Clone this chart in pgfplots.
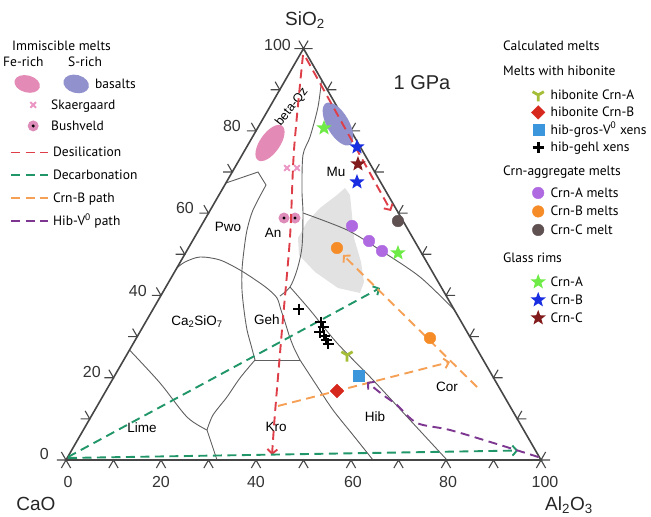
\documentclass[border=0pt]{standalone}
\usepackage{fontspec}
\setmainfont{Liberation Sans}
\newfontfamily\legfont{PT Sans}
\usepackage{pgfplots}
\pgfplotsset{compat=1.18}
\usetikzlibrary{arrows.meta}

\definecolor{desil}{RGB}{222,62,72}
\definecolor{decarb}{RGB}{32,150,105}
\definecolor{crnbp}{RGB}{245,160,85}
\definecolor{hibv}{RGB}{125,55,145}
\definecolor{fepink}{RGB}{228,138,182}
\definecolor{sblue}{RGB}{145,146,205}
\definecolor{skpink}{RGB}{235,150,195}
\definecolor{bushpink}{RGB}{222,140,185}
\definecolor{gstar}{RGB}{110,235,70}
\definecolor{bstar}{RGB}{25,45,225}
\definecolor{rstar}{RGB}{130,28,28}
\definecolor{purp}{RGB}{175,105,225}
\definecolor{orng}{RGB}{245,140,40}
\definecolor{dgray}{RGB}{95,80,82}
\definecolor{ygreen}{RGB}{165,190,55}
\definecolor{lblue}{RGB}{60,150,220}
\definecolor{rdiam}{RGB}{215,40,30}
\definecolor{shade}{RGB}{226,226,226}
\definecolor{phase}{RGB}{95,95,95}
\definecolor{frame}{RGB}{70,70,70}

\pgfdeclareplotmark{fstar}{%
 \pgfpathmoveto{\pgfpointpolar{90}{\pgfplotmarksize}}%
 \pgfpathlineto{\pgfpointpolar{126}{0.42\pgfplotmarksize}}%
 \pgfpathlineto{\pgfpointpolar{162}{\pgfplotmarksize}}%
 \pgfpathlineto{\pgfpointpolar{198}{0.42\pgfplotmarksize}}%
 \pgfpathlineto{\pgfpointpolar{234}{\pgfplotmarksize}}%
 \pgfpathlineto{\pgfpointpolar{270}{0.42\pgfplotmarksize}}%
 \pgfpathlineto{\pgfpointpolar{306}{\pgfplotmarksize}}%
 \pgfpathlineto{\pgfpointpolar{342}{0.42\pgfplotmarksize}}%
 \pgfpathlineto{\pgfpointpolar{18}{\pgfplotmarksize}}%
 \pgfpathlineto{\pgfpointpolar{54}{0.42\pgfplotmarksize}}%
 \pgfpathclose\pgfusepathqfill}
\pgfdeclareplotmark{feell}{%
 \pgftransformrotate{55}%
 \pgfpathellipse{\pgfpointorigin}{\pgfqpoint{21pt}{0pt}}{\pgfqpoint{0pt}{10pt}}%
 \pgfusepathqfill}
\pgfdeclareplotmark{sell}{%
 \pgftransformrotate{-60}%
 \pgfpathellipse{\pgfpointorigin}{\pgfqpoint{24pt}{0pt}}{\pgfqpoint{0pt}{11pt}}%
 \pgfusepathqfill}
\pgfdeclareplotmark{bush}{%
 \pgfpathcircle{\pgfpointorigin}{\pgfplotmarksize}%
 \pgfsetfillcolor{bushpink}\pgfusepathqfill
 \pgfpathcircle{\pgfpointorigin}{0.3\pgfplotmarksize}%
 \pgfsetfillcolor{black}\pgfusepathqfill}

\tikzset{
 pth/.style={line width=1.9pt, dash pattern=on 9pt off 5.5pt},
 desilsty/.style={pth, draw=desil},
 decarbsty/.style={pth, draw=decarb},
 crnbsty/.style={pth, draw=crnbp},
 hibvsty/.style={pth, draw=hibv},
 tip/.style={-{Straight Barb[length=4.5pt,width=10pt]}},
 plin/.style={draw=phase, line width=0.9pt},
}
\newcommand{\lf}{\legfont\fontsize{13.5}{15}\selectfont}
\newcommand{\st}{\rule[-3.5pt]{0pt}{13.5pt}}
\pgfplotsset{
 tern/.style={at={(0pt,0pt)}, anchor=south west, scale only axis,
   width=651pt, height=517pt,
   xmin=-13.895, xmax=123.158, ymin=-13.855, ymax=111.81,
   axis lines=none, xtick=\empty, ytick=\empty, clip=false,
   unbounded coords=jump, legend cell align=left},
 legat/.style 2 args={legend style={at={#1}, anchor=north west, draw=none, fill=none,
   inner sep=0pt, row sep=#2, column sep=4pt, font=\lf, nodes={inner sep=0pt}}},
 lineleg/.style={legend image code/.code={\draw[##1] (0pt,0pt) -- (37pt,0pt);}},
 markleg/.style={legend image code/.code={\path[draw=none,fill=none] (0pt,0pt) -- (37pt,0pt); \draw[##1, only marks, overlay] plot coordinates {(23pt,0pt)};}},
 rmark/.style={legend image code/.code={\path[draw=none,fill=none] (0pt,0pt) -- (17pt,0pt); \draw[##1, only marks, overlay] plot coordinates {(8.5pt,0pt)};}},
 ellleg/.style={legend image code/.code={\path[draw=none,fill=none] (0pt,0pt) -- (37pt,0pt);
   \fill[fepink,draw=none,overlay,rotate around={-15:(17pt,0pt)}] (17pt,0pt) ellipse (13pt and 8.5pt);
   \fill[sblue,draw=none,overlay,rotate around={-15:(66pt,0pt)}] (66pt,0pt) ellipse (13pt and 9pt);}},
}

\begin{document}
\begin{tikzpicture}
\useasboundingbox (0,0) rectangle (651pt,517pt);
% ---------------- background: fields, frame, ticks, texts
\begin{axis}[tern]
\addplot[fill=shade, draw=none, forget plot] coordinates {
 (58.74,66.12) (57.05,64.41) (53.47,61.25) (50.74,57.85) (48.84,53.96) (49.05,49.83)
 (52.42,45.70) (57.26,41.81) (61.89,40.59) (62.74,43.27) (62.11,48.13) (60.63,53.96)
 (60.21,59.55) (59.79,64.41)} -- cycle;
\addplot[plin, smooth, forget plot] coordinates {(53.8,92.4) (53.05,85.80) (51.37,78.51) (49.89,74.14) (49.68,65.63) (49.89,60.04) (49.68,51.77) (48.63,46.18) (47.16,42.05) (45.05,39.86)};
\addplot[plin, smooth, forget plot] coordinates {(23.33,46.67) (25.05,48.13) (28.21,49.34) (32.42,48.61) (36.63,46.18) (40.21,43.51) (42.53,41.56) (44.42,39.38) (45.26,36.46) (46.11,33.54) (46.95,30.38) (48.00,27.22) (49.26,24.31)};
\addplot[plin, forget plot] coordinates {(33.67,67.33) (40.42,70.00) (42.11,66.84)};
\addplot[plin, smooth, forget plot] coordinates {(42.11,66.84) (39.37,60.77) (38.11,55.91) (37.47,51.04) (37.05,46.18) (37.05,41.32) (37.47,36.46) (38.11,31.60) (38.95,27.95) (39.79,24.31)};
\addplot[plin, forget plot] coordinates {(39.79,24.31) (49.26,24.31)};
\addplot[plin, smooth, forget plot] coordinates {(49.26,24.31) (52.42,18.72) (56.21,12.15) (60.42,6.08) (64.63,0)};
\addplot[plin, smooth, forget plot] coordinates {(47.16,42.05) (51.37,36.46) (57.05,28.44) (64.63,19.45) (72.42,9.72) (80.21,0)};
\addplot[plin, smooth, forget plot] coordinates {(49.89,60.04) (59.16,55.91) (66.11,51.04) (74.53,44.48) (81.77,36.46)};
\addplot[plin, smooth, forget plot] coordinates {(13.37,26.74) (19.79,18.72) (25.47,10.45) (29.68,7.29)};
\addplot[plin, forget plot] coordinates {(29.68,7.29) (31.79,0)};
\addplot[plin, smooth, forget plot] coordinates {(29.68,7.29) (30.95,10.94) (33.89,15.31) (36.63,19.93) (39.79,24.31)};
\addplot[draw=frame, line width=1.6pt, forget plot] coordinates {(0,0) (100,0) (50,100)} -- cycle;
\addplot[draw=frame, line width=1.1pt, forget plot] coordinates {
 (-0.97,-1.94) (0,0) (0.97,-1.94) (0,nan)
 (9.03,-1.94) (10,0) (10.97,-1.94) (0,nan)
 (19.03,-1.94) (20,0) (20.97,-1.94) (0,nan)
 (29.03,-1.94) (30,0) (30.97,-1.94) (0,nan)
 (39.03,-1.94) (40,0) (40.97,-1.94) (0,nan)
 (49.03,-1.94) (50,0) (50.97,-1.94) (0,nan)
 (59.03,-1.94) (60,0) (60.97,-1.94) (0,nan)
 (69.03,-1.94) (70,0) (70.97,-1.94) (0,nan)
 (79.03,-1.94) (80,0) (80.97,-1.94) (0,nan)
 (89.03,-1.94) (90,0) (90.97,-1.94) (0,nan)
 (99.03,-1.94) (100,0) (100.97,-1.94) (0,nan)
 (-1.94,0) (0,0) (-0.97,1.94) (0,nan)
 (3.06,10) (5,10) (4.03,11.94) (0,nan)
 (8.06,20) (10,20) (9.03,21.94) (0,nan)
 (13.06,30) (15,30) (14.03,31.94) (0,nan)
 (18.06,40) (20,40) (19.03,41.94) (0,nan)
 (23.06,50) (25,50) (24.03,51.94) (0,nan)
 (28.06,60) (30,60) (29.03,61.94) (0,nan)
 (33.06,70) (35,70) (34.03,71.94) (0,nan)
 (38.06,80) (40,80) (39.03,81.94) (0,nan)
 (43.06,90) (45,90) (44.03,91.94) (0,nan)
 (48.06,100) (50,100) (49.03,101.94) (0,nan)
 (101.94,0) (100,0) (100.97,1.94) (0,nan)
 (96.94,10) (95,10) (95.97,11.94) (0,nan)
 (91.94,20) (90,20) (90.97,21.94) (0,nan)
 (86.94,30) (85,30) (85.97,31.94) (0,nan)
 (81.94,40) (80,40) (80.97,41.94) (0,nan)
 (76.94,50) (75,50) (75.97,51.94) (0,nan)
 (71.94,60) (70,60) (70.97,61.94) (0,nan)
 (66.94,70) (65,70) (65.97,71.94) (0,nan)
 (61.94,80) (60,80) (60.97,81.94) (0,nan)
 (56.94,90) (55,90) (55.97,91.94) (0,nan)
 (51.94,100) (50,100) (50.97,101.94)};
% axis titles
\node[font=\fontsize{19}{22}\selectfont, anchor=base, text=black!85] at (rel axis cs:0.4685,0.9516) {SiO\textsubscript{2}};
\node[font=\fontsize{19}{22}\selectfont, anchor=base, text=black!85] at (rel axis cs:0.0553,0.0135) {CaO};
\node[font=\fontsize{19}{22}\selectfont, anchor=base, text=black!85] at (rel axis cs:0.8740,0.0135) {Al\textsubscript{2}O\textsubscript{3}};
\node[font=\fontsize{20}{24}\selectfont, text=black!85] at (rel axis cs:0.6482,0.8395) {1 GPa};
% tick labels
\begin{scope}[every node/.style={font=\fontsize{16}{19}\selectfont, text=black!80, inner sep=0pt}]
\node[anchor=east] at (rel axis cs:0.4470,0.9130) {100};
\node[anchor=east] at (rel axis cs:0.3702,0.7563) {80};
\node[anchor=east] at (rel axis cs:0.2980,0.5977) {60};
\node[anchor=east] at (rel axis cs:0.2258,0.4371) {40};
\node[anchor=east] at (rel axis cs:0.1551,0.2805) {20};
\node[anchor=east] at (rel axis cs:0.0753,0.1219) {0};
\node at (rel axis cs:0.1045,0.0677) {0};
\node at (rel axis cs:0.2473,0.0677) {20};
\node at (rel axis cs:0.3932,0.0677) {40};
\node at (rel axis cs:0.5422,0.0677) {60};
\node at (rel axis cs:0.6882,0.0677) {80};
\node at (rel axis cs:0.8372,0.0677) {100};
\end{scope}
% field labels
\begin{scope}[every node/.style={font=\fontsize{13.5}{16}\selectfont, inner sep=0pt}]
\node at (rel axis cs:0.5161,0.6673) {Mu};
\node at (rel axis cs:0.3502,0.5609) {Pwo};
\node at (rel axis cs:0.4194,0.5493) {An};
\node at (rel axis cs:0.3026,0.3772) {Ca\textsubscript{2}SiO\textsubscript{7}};
\node at (rel axis cs:0.4101,0.3810) {Geh};
\node at (rel axis cs:0.2181,0.1721) {Lime};
\node at (rel axis cs:0.4240,0.1741) {Kro};
\node at (rel axis cs:0.5760,0.1934) {Hib};
\node at (rel axis cs:0.6866,0.2515) {Cor};
\node[rotate=52, font=\fontsize{12.5}{15}\selectfont] at (rel axis cs:0.4485,0.7930) {beta-Qz};
\end{scope}
% legend headings
\begin{scope}[every node/.style={font=\lf, inner sep=0pt, anchor=base west}]
\node at (rel axis cs:0.01843,0.90135) {Immiscible melts};
\node at (rel axis cs:0.00461,0.87041) {Fe-rich};
\node at (rel axis cs:0.10445,0.87041) {S-rich};
\node at (rel axis cs:0.77266,0.90135) {Calculated melts};
\node at (rel axis cs:0.77266,0.85300) {Melts with hibonite};
\node at (rel axis cs:0.77266,0.65957) {Crn-aggregate melts};
\node at (rel axis cs:0.77266,0.49323) {Glass rims};
\end{scope}
\end{axis}

% ---------------- immiscible melts, Skaergaard, Bushveld
\begin{axis}[tern, legat={(0.01536,0.84913)}{9.5pt}]
\addplot[only marks, mark=feell, color=fepink, forget plot] coordinates {(42.95,77.05)};
\addplot[only marks, mark=sell, color=sblue, forget plot] coordinates {(57.26,81.67)};
\addlegendimage{ellleg}\addlegendentry{\st\hspace*{44pt}basalts}
\addplot[only marks, mark=x, mark size=4pt, line width=2pt, color=skpink, markleg] coordinates {(46.53,70.98) (48.63,70.98)};
\addlegendentry{\st Skaergaard}
\addplot[only marks, mark=bush, mark size=5.5pt, markleg] coordinates {(45.89,58.82) (48.21,58.82)};
\addlegendentry{\st Bushveld}
\end{axis}

% ---------------- reaction paths
\begin{axis}[tern, legat={(0.01536,0.71663)}{11.5pt}]
\addplot[desilsty, tip, forget plot] coordinates {(50.53,97.71) (68.42,60.52)};
\addplot[desilsty, tip, smooth, forget plot] coordinates {(49.89,98.44) (48.0,75.35) (47.16,54.20) (45.47,31.60) (44.0,11.42) (43.37,1.22)};
\addplot[decarbsty, tip, forget plot] coordinates {(0.42,0.73) (66.11,41.81)};
\addplot[decarbsty, tip, forget plot] coordinates {(0.42,0.49) (95.2,2.3)};
\addplot[crnbsty, tip, forget plot] coordinates {(86.53,17.74) (58.32,49.83)};
\addplot[crnbsty, tip, forget plot] coordinates {(44.63,13.13) (80.84,23.82)};
\addplot[hibvsty, tip, smooth, forget plot] coordinates {(99.5,0.7) (91.37,3.65) (80.84,7.29) (73.89,8.99) (69.68,13.37) (66.74,15.80) (63.37,18.96)};
\addlegendimage{lineleg, desilsty}\addlegendentry{\st Desilication}
\addlegendimage{lineleg, decarbsty}\addlegendentry{\st Decarbonation}
\addlegendimage{lineleg, crnbsty}\addlegendentry{\st Crn-B path}
\addlegendimage{lineleg, hibvsty}\addlegendentry{\st Hib-V\smash{\textsuperscript{0}} path}
\end{axis}

% ---------------- melts with hibonite
\begin{axis}[tern, legat={(0.81336,0.82785)}{6pt}]
\addplot[only marks, mark=Mercedes star flipped, mark size=6.5pt, line width=2.8pt, color=ygreen, rmark] coordinates {(59.16,25.52)};
\addlegendentry{\st hibonite Crn-A}
\addplot[only marks, mark=square*, mark options={rotate=45}, mark size=4.8pt, color=rdiam, rmark] coordinates {(57.05,16.77)};
\addlegendentry{\st hibonite Crn-B}
\addplot[only marks, mark=square*, mark size=5.5pt, color=lblue, rmark] coordinates {(61.68,20.42)};
\addlegendentry{\st hib-gros-V\smash{\textsuperscript{0}} xens}
\addplot[only marks, mark=+, mark size=5.5pt, line width=2.6pt, color=black, rmark] coordinates {(49.05,36.70) (53.68,33.54) (54.11,32.33) (53.47,31.11) (54.32,30.14) (54.74,29.17) (55.16,28.20)};
\addlegendentry{\st hib-gehl xens}
\end{axis}

% ---------------- Crn-aggregate melts
\begin{axis}[tern, legat={(0.81336,0.63830)}{7pt}]
\addplot[only marks, mark=*, mark size=5.8pt, color=purp, rmark] coordinates {(60.21,56.88) (63.79,53.23) (66.53,50.80)};
\addlegendentry{\st Crn-A melts}
\addplot[only marks, mark=*, mark size=5.8pt, color=orng, rmark] coordinates {(57.05,51.53) (76.63,29.65)};
\addlegendentry{\st Crn-B melts}
\addplot[only marks, mark=*, mark size=5.8pt, color=dgray, rmark] coordinates {(69.89,58.09)};
\addlegendentry{\st Crn-C melt}
\end{axis}

% ---------------- glass rims
\begin{axis}[tern, legat={(0.81336,0.46615)}{6.5pt}]
\addplot[only marks, mark=fstar, mark size=8pt, color=gstar, rmark] coordinates {(54.32,80.70) (69.89,50.32)};
\addlegendentry{\st Crn-A}
\addplot[only marks, mark=fstar, mark size=8pt, color=bstar, rmark] coordinates {(61.26,76.08) (61.26,67.57)};
\addlegendentry{\st Crn-B}
\addplot[only marks, mark=fstar, mark size=8pt, color=rstar, rmark] coordinates {(61.47,71.95)};
\addlegendentry{\st Crn-C}
\end{axis}
\end{tikzpicture}
\end{document}
